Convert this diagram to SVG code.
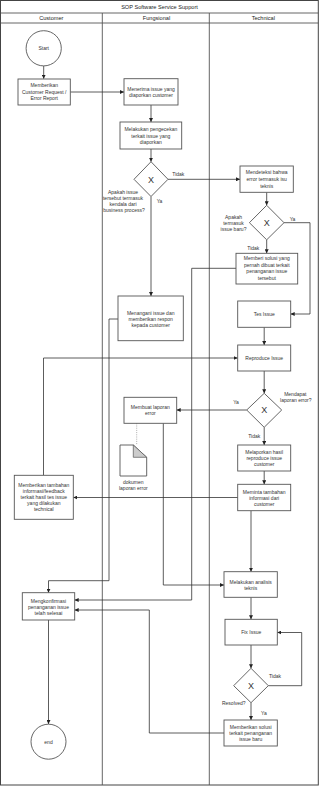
<svg xmlns="http://www.w3.org/2000/svg" width="319" height="786" viewBox="0 0 319 786">
<style>
.frame{fill:#fff;stroke:#444;stroke-width:1}
.lane{fill:none;stroke:#555;stroke-width:0.9}
.box{fill:#fff;stroke:#555;stroke-width:0.9}
.c{fill:none;stroke:#333;stroke-width:0.8}
.t{font-family:"Liberation Sans",Arial,sans-serif;font-size:5px;fill:#333;text-anchor:middle}
.h{font-family:"Liberation Sans",Arial,sans-serif;font-size:5.6px;fill:#222;text-anchor:middle}
.x{font-family:"Liberation Sans",Arial,sans-serif;font-size:9px;fill:#333;text-anchor:middle}
</style>
<defs>
<marker id="a" markerWidth="4" markerHeight="4" refX="4" refY="2" orient="auto" markerUnits="userSpaceOnUse">
<path d="M0,0 L4,2 L0,4 z" fill="#222"/>
</marker>
</defs>
<rect width="319" height="786" fill="#fff"/>
<g id="pool">
<rect class="frame" x="0.5" y="0.5" width="317.8" height="784.5"/>
<line class="lane" x1="0.5" y1="13" x2="318.3" y2="13"/>
<line class="lane" x1="0.5" y1="23" x2="318.3" y2="23"/>
<line class="lane" x1="102.3" y1="13" x2="102.3" y2="785"/>
<line class="lane" x1="209.3" y1="13" x2="209.3" y2="785"/>
<text class="h" x="159.5" y="8.7">SOP Software Service Support</text>
<text class="h" x="51.3" y="20.2">Customer</text>
<text class="h" x="156.5" y="20.2">Fungsional</text>
<text class="h" x="263.3" y="20.2">Technical</text>
</g>
<g id="connectors">
<path class="c" d="M43.7,66 V78.7" marker-end="url(#a)"/>
<path class="c" d="M70.3,92 H124" marker-end="url(#a)"/>
<path class="c" d="M151,105 V122" marker-end="url(#a)"/>
<path class="c" d="M151,149 V161.7" marker-end="url(#a)"/>
<path class="c" d="M168,179.3 H240" marker-end="url(#a)"/>
<path class="c" d="M151,196.5 V296" marker-end="url(#a)"/>
<path class="c" d="M266.7,192.3 V205.3" marker-end="url(#a)"/>
<path class="c" d="M284,222.7 H310 V314 H290.7" marker-end="url(#a)"/>
<path class="c" d="M266.7,239.8 V253.3" marker-end="url(#a)"/>
<path class="c" d="M236,268.3 H191.7 V600 H74.7" marker-end="url(#a)"/>
<path class="c" d="M118,319 H109 V580.7 H48.5 V592.7" marker-end="url(#a)"/>
<path class="c" d="M264.2,327.3 V345" marker-end="url(#a)"/>
<path class="c" d="M43.5,475.3 V358 H237.7" marker-end="url(#a)"/>
<path class="c" d="M264.2,371 V393.3" marker-end="url(#a)"/>
<path class="c" d="M246.7,410 H176.7" marker-end="url(#a)"/>
<path d="M136.7,423.3 V445" fill="none" stroke="#999" stroke-width="0.8" stroke-dasharray="1,1.2"/>
<path class="c" d="M163.3,423.3 V585 H224" marker-end="url(#a)"/>
<path class="c" d="M264.2,427.3 V445" marker-end="url(#a)"/>
<path class="c" d="M264.2,471 V484.3" marker-end="url(#a)"/>
<path class="c" d="M238,497.5 H73.3" marker-end="url(#a)"/>
<path class="c" d="M251,510.7 V571.7" marker-end="url(#a)"/>
<path class="c" d="M251,597.3 V619.3" marker-end="url(#a)"/>
<path class="c" d="M251,645 V668.3" marker-end="url(#a)"/>
<path class="c" d="M268.3,685.7 H301.7 V632.5 H277.3" marker-end="url(#a)"/>
<path class="c" d="M251,702.7 V720" marker-end="url(#a)"/>
<path class="c" d="M224,733 H149.3 V610 H74.7" marker-end="url(#a)"/>
<path class="c" d="M48.5,620 V724" marker-end="url(#a)"/>
</g>
<g id="start">
<circle class="box" cx="43.7" cy="48.3" r="17.6"/>
<text class="t" x="43.7" y="50.1">Start</text>
</g>
<g id="customer-request">
<rect class="box" x="18" y="79" width="52.3" height="26"/>
<text class="t" x="44.2" y="87.2">Memberikan</text>
<text class="t" x="44.2" y="93.8">Customer Request /</text>
<text class="t" x="44.2" y="100.4">Error Report</text>
</g>
<g id="menerima">
<rect class="box" x="124" y="78.7" width="54" height="26.3"/>
<text class="t" x="151" y="90.6">Menerima issue yang</text>
<text class="t" x="151" y="96.6">diaporkan customer</text>
</g>
<g id="melakukan-pengecekan">
<rect class="box" x="120" y="122" width="61.7" height="27"/>
<text class="t" x="150.8" y="131.1">Melakukan pengecekan</text>
<text class="t" x="150.8" y="137.5">terkait issue yang</text>
<text class="t" x="150.8" y="143.8">diaporkan</text>
</g>
<g id="d1">
<polygon class="box" points="151,161.7 168,179.3 151,196.5 134,179.3"/>
<text class="x" x="151" y="182.6">X</text>
<text class="t" x="123" y="193.5">Apakah issue</text>
<text class="t" x="123" y="199.7">tersebut termasuk</text>
<text class="t" x="123" y="205.9">kendala dari</text>
<text class="t" x="124" y="212.1">business process?</text>
<text class="t" x="159.5" y="202.5">Ya</text>
<text class="t" x="178.3" y="175.8">Tidak</text>
</g>
<g id="mendeteksi">
<rect class="box" x="240" y="166" width="53.3" height="26.3"/>
<text class="t" x="266.7" y="174.1">Mendeteksi bahwa</text>
<text class="t" x="266.7" y="180.8">error termasuk isu</text>
<text class="t" x="266.7" y="187.5">teknis</text>
</g>
<g id="d2">
<polygon class="box" points="266.7,205.3 284,222.7 266.7,239.8 249.4,222.7"/>
<text class="x" x="266.7" y="226">X</text>
<text class="t" x="233.5" y="218.5">Apakah</text>
<text class="t" x="233.5" y="224.5">termasuk</text>
<text class="t" x="233.5" y="230.5">issue baru?</text>
<text class="t" x="292.5" y="220.5">Ya</text>
<text class="t" x="253.3" y="250">Tidak</text>
</g>
<g id="memberi-solusi">
<rect class="box" x="236" y="253.3" width="61.7" height="30.7"/>
<text class="t" x="266.8" y="260.3">Memberi solusi yang</text>
<text class="t" x="266.8" y="266.7">pernah dibuat terkait</text>
<text class="t" x="266.8" y="273.1">penanganan issue</text>
<text class="t" x="266.8" y="279.5">tersebut</text>
</g>
<g id="menangani">
<rect class="box" x="118" y="296" width="65.3" height="44.7"/>
<text class="t" x="150.7" y="314.5">Menangani issue dan</text>
<text class="t" x="150.7" y="320.5">memberikan respon</text>
<text class="t" x="150.7" y="326.5">kepada customer</text>
</g>
<g id="tes-issue">
<rect class="box" x="237.7" y="301" width="53" height="26.3"/>
<text class="t" x="264.2" y="316.1">Tes Issue</text>
</g>
<g id="reproduce">
<rect class="box" x="237.7" y="345" width="53" height="26"/>
<text class="t" x="264.2" y="359.8">Reproduce Issue</text>
</g>
<g id="d3">
<polygon class="box" points="264.2,393.3 281.7,410 264.2,427.3 246.7,410"/>
<text class="x" x="264.2" y="413.3">X</text>
<text class="t" x="295.3" y="395.8">Mendapat</text>
<text class="t" x="295.8" y="401.8">laporan error?</text>
<text class="t" x="236" y="403.5">Ya</text>
<text class="t" x="254.2" y="437.5">Tidak</text>
</g>
<g id="membuat-laporan">
<rect class="box" x="124" y="397.3" width="52.7" height="26"/>
<text class="t" x="150.3" y="409.1">Membuat laporan</text>
<text class="t" x="150.3" y="415.1">error</text>
</g>
<g id="dokumen">
<path class="box" d="M120,445 H133.3 L146.7,457.3 V476 H120 Z"/>
<path d="M133.3,445 V457.3 H146.7 Z" fill="#ccc" stroke="#555" stroke-width="0.7"/>
<text class="t" x="133.3" y="483.5">dokumen</text>
<text class="t" x="133.3" y="490.1">laporan error</text>
</g>
<g id="memberikan-tambahan">
<rect class="box" x="14.3" y="475.3" width="59" height="44"/>
<text class="t" x="43.8" y="486.8">Memberikan tambahan</text>
<text class="t" x="43.8" y="492.6">informasi/feedback</text>
<text class="t" x="43.8" y="498.5">terkait hasil tes issue</text>
<text class="t" x="43.8" y="504.5">yang dilakukan</text>
<text class="t" x="43.8" y="510.5">technical</text>
</g>
<g id="melaporkan">
<rect class="box" x="237.7" y="445" width="53" height="26"/>
<text class="t" x="264.2" y="453.5">Melaporkan hasil</text>
<text class="t" x="264.2" y="460.1">reproduce issue</text>
<text class="t" x="264.2" y="466.3">customer</text>
</g>
<g id="meminta">
<rect class="box" x="237.7" y="484.3" width="53" height="26.4"/>
<text class="t" x="264.2" y="493.5">Meminta tambahan</text>
<text class="t" x="264.2" y="499.6">informasi dari</text>
<text class="t" x="264.2" y="505.8">customer</text>
</g>
<g id="analisis">
<rect class="box" x="224" y="571.7" width="53.3" height="25.6"/>
<text class="t" x="250.7" y="583.5">Melakukan analisis</text>
<text class="t" x="250.7" y="590.1">teknis</text>
</g>
<g id="fix-issue">
<rect class="box" x="225" y="619.3" width="52.3" height="25.7"/>
<text class="t" x="251.2" y="634.3">Fix Issue</text>
</g>
<g id="d4">
<polygon class="box" points="251,668.3 268.3,685.7 251,702.7 233.7,685.7"/>
<text class="x" x="251" y="689">X</text>
<text class="t" x="275" y="677.8">Tidak</text>
<text class="t" x="233.8" y="705.1">Resolved?</text>
<text class="t" x="263.8" y="714.5">Ya</text>
</g>
<g id="memberikan-solusi">
<rect class="box" x="224" y="720" width="53.3" height="26"/>
<text class="t" x="250.7" y="728.5">Memberikan solusi</text>
<text class="t" x="250.7" y="734.5">terkait penanganan</text>
<text class="t" x="250.7" y="740.5">issue baru</text>
</g>
<g id="mengkonfirmasi">
<rect class="box" x="22.3" y="592.7" width="52.4" height="27.3"/>
<text class="t" x="48.5" y="602.5">Mengkonfirmasi</text>
<text class="t" x="48.5" y="608.5">penanganan issue</text>
<text class="t" x="48.5" y="614.5">telah selesai</text>
</g>
<g id="end">
<circle class="box" cx="48.5" cy="741.7" r="17.5"/>
<text class="t" x="48.5" y="743.5">end</text>
</g>
</svg>
